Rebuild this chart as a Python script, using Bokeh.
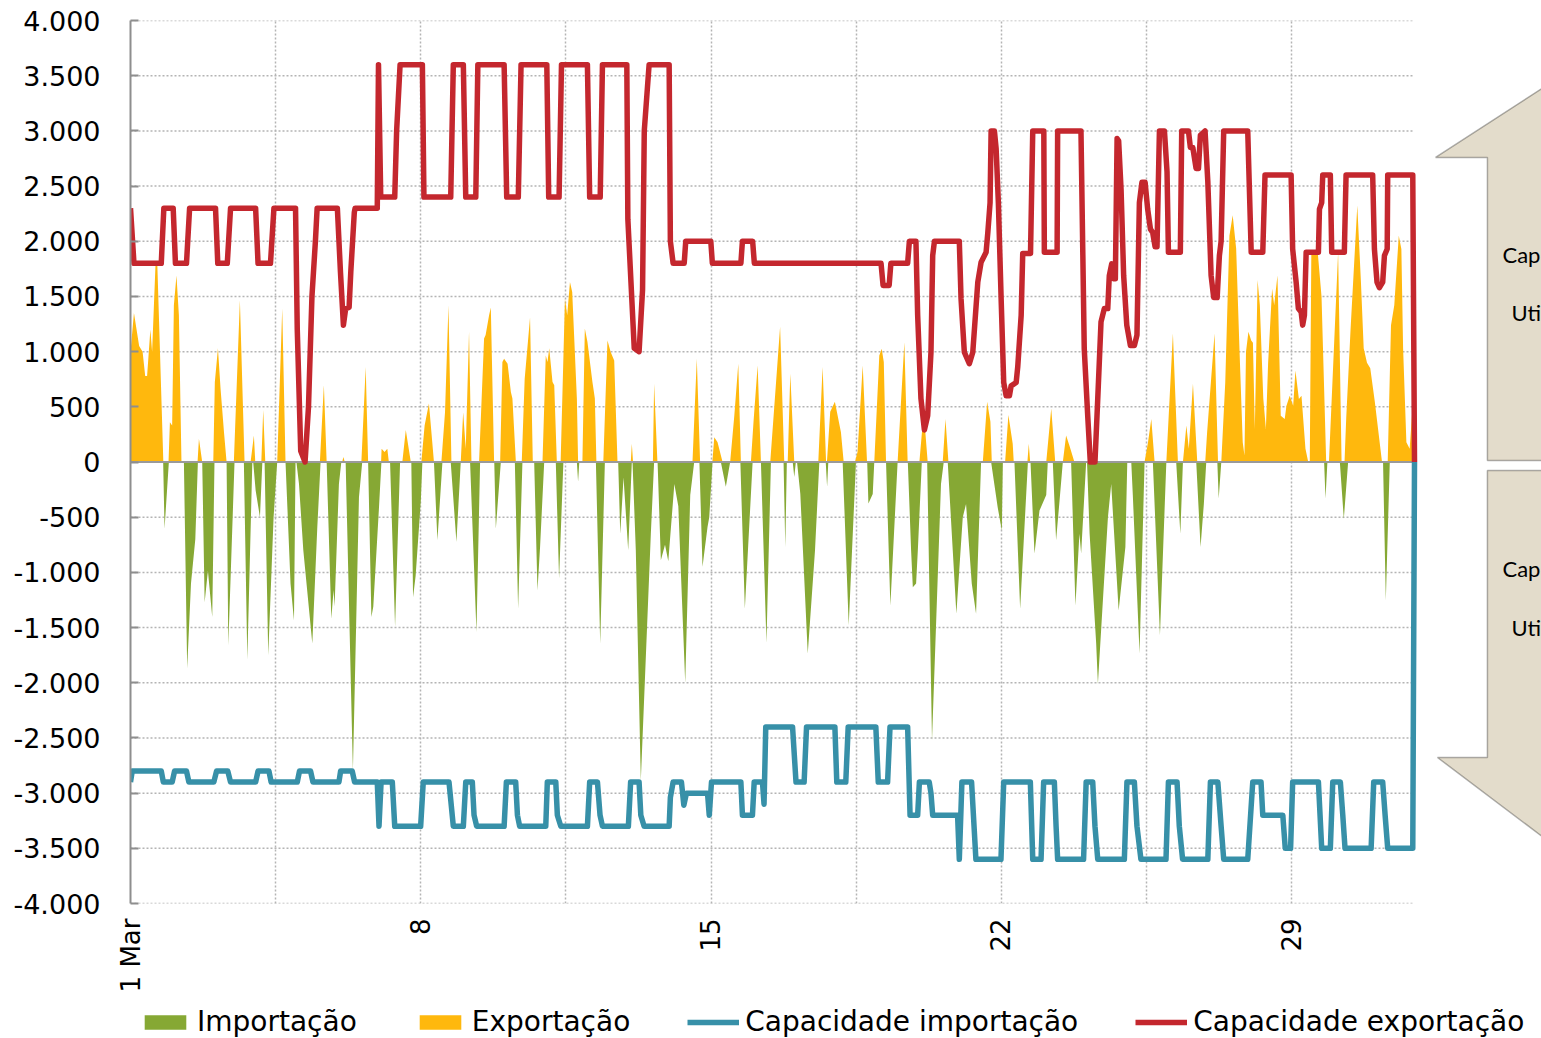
import math
from bokeh.plotting import figure
from bokeh.layouts import column
from bokeh.models import (Range1d, FixedTicker, Legend, LegendItem, PolyAnnotation, Label)
from bokeh.embed import file_html
from bokeh.resources import INLINE

# ---------------- data (x = hours since 1 March 00:00, values in MW) ----------------
tick_days = [1, 8, 15, 22, 29]
tick_labels = ["1 Mar", "8", "15", "22", "29"]
y_ticks = list(range(-4000, 4001, 500))

exportacao = [
    (0, 1000), (2, 1350), (5, 1050), (7, 1000), (8.5, 780), (9.6, 780), (11.5, 1200), (12.5, 1000),
    (14.5, 1800), (15.5, 1800), (19, 0),
    (22, 0), (22.8, 360), (24.1, 330), (25.1, 1420), (26.6, 1690), (28, 1330), (29.5, 0),
    (38.8, 0), (39.6, 210), (41.5, 0),
    (47.9, 0), (48.8, 725), (50.6, 1030), (52.1, 665), (54.1, 270), (55.6, 0),
    (59.8, 0), (63.3, 1465), (66, 0),
    (69.5, 0), (71.4, 240), (72.2, 0),
    (75.7, 0), (76.8, 470), (78, 0),
    (84.9, 0), (87.8, 1390), (89.7, 0),
    (109.6, 0), (111.9, 695), (113.5, 0),
    (122.5, 0), (123.2, 45), (124, 0),
    (133.6, 0), (136.1, 860), (137.5, 0),
    (145, 0), (145.3, 120), (147, 90), (148.6, 120), (149.5, 0),
    (157.3, 0), (159.3, 290), (162.2, 0),
    (168.3, 0), (170.2, 330), (172.7, 530), (175.6, 0),
    (179.9, 0), (182, 450), (184, 1420), (185.7, 0),
    (191.1, 0), (192.5, 450), (194, 120), (195.9, 1180), (197.3, 0),
    (201.7, 0), (204.6, 1120), (205.5, 1150), (207.5, 1330), (208.5, 1400), (210.4, 0),
    (213.9, 0), (215.2, 905), (216.2, 935), (218.2, 890), (220.1, 635), (221, 575), (223, 0),
    (226.4, 0), (228.1, 755), (231.2, 1310), (232.8, 0),
    (238.4, 0), (240.3, 965), (241.3, 905), (242.3, 1030), (244.2, 725), (245.2, 695), (246.7, 0),
    (248.9, 0), (251.4, 1480), (252.7, 1330), (254.3, 1630), (255.6, 1540), (258.3, 575), (259, 0),
    (261.5, 0), (262.9, 1210), (264.4, 1090), (267.3, 725), (268.7, 575), (269.6, 0),
    (273.6, 0), (276, 1100), (277.9, 995), (279.9, 920), (281.8, 0),
    (289.5, 0), (290.1, 165), (290.8, 0),
    (302.3, 0), (303, 710), (304.9, 0),
    (325.2, 0), (327.7, 935), (329.6, 0),
    (336.7, 0), (337.8, 225), (339.7, 180), (342.6, 0),
    (347, 0), (349.4, 420), (351.7, 890), (353.2, 0),
    (359, 0), (360.5, 360), (362.9, 875), (364.8, 0),
    (370.2, 0), (375.9, 1225), (378.3, 0),
    (380.3, 0), (381.8, 800), (384.1, 0),
    (398, 0), (400.5, 860), (402.5, 0),
    (403, 0), (404.9, 455), (407.6, 545), (411.1, 270), (412.7, 0),
    (419.2, 0), (420.7, 90), (423.7, 875), (426.2, 0),
    (430.4, 0), (433.3, 965), (434.7, 1025), (435.9, 905), (437.2, 0),
    (443.9, 0), (447.8, 1085), (449.7, 0),
    (456.5, 0), (459, 455), (461.3, 0),
    (470, 0), (471.6, 390), (473.3, 0),
    (493.2, 0), (495.7, 545), (497.6, 365), (498.4, 0),
    (506.1, 0), (508, 425), (510.5, 165), (511.1, 0),
    (519, 0), (519.8, 165), (520.6, 0),
    (529.9, 0), (532.8, 485), (535.1, 0),
    (539.5, 0), (541.4, 240), (543.3, 150), (546.2, 0),
    (586.8, 0), (588.8, 180), (590.7, 390), (592.6, 0),
    (599.4, 0), (603.2, 1165), (606.1, 0),
    (609, 0), (611, 330), (612.4, 120), (614.8, 710), (617.3, 0),
    (621.9, 0), (623, 270), (627.3, 1165), (629.3, 0),
    (631.2, 0), (633.5, 725), (635.9, 2050), (637.8, 2235), (639.8, 1935), (641.7, 1030),
    (643.6, 180), (644.6, 60), (645.5, 1000), (646.9, 1180), (648.5, 1100), (649.5, 1080),
    (650.6, 300), (652.2, 1650), (653.5, 1420), (655.5, 575), (657, 300), (658.3, 900),
    (660.6, 1570), (661.8, 1420), (663.7, 1690), (665.6, 420), (667.9, 390), (668.9, 510),
    (670.8, 600), (672.8, 510), (674.1, 830), (676.1, 570), (677.6, 600), (679.9, 120), (681.5, 0),
    (682.4, 0), (683.3, 1900), (687, 1900), (689.2, 1500), (691.9, 0),
    (693.5, 0), (698.8, 1900), (700.8, 0),
    (702.5, 0), (703.5, 400), (706, 1200), (709.9, 2325), (712, 1630), (713.6, 1030),
    (715.5, 900), (717.4, 850), (720, 550), (724.2, 0),
    (727.5, 0), (729.4, 1240), (731.3, 1420), (733.9, 2050), (735.4, 1930), (736.4, 1030),
    (738.3, 180), (740.2, 120), (742.2, 575), (743, 0),
]

importacao = [
    (18.9, 0), (19.7, -605), (22.2, 0),
    (30.9, 0), (32.8, -1870), (35, -1100), (37.5, -700), (39, 0),
    (41.5, 0), (42.9, -1270), (44.8, -985), (47.3, -1405), (48.6, 0),
    (55.6, 0), (56.6, -1660), (60.2, 0),
    (65.6, 0), (67.6, -1795), (70.5, 0),
    (71, 0), (72.4, -255), (74.9, -500), (76.3, 0),
    (77.6, 0), (79.7, -1750), (82.8, -500), (84.9, 0),
    (89.7, 0), (92.6, -1100), (94.6, -1435), (95.5, 0),
    (96, 0), (97.5, -200), (100, -800), (105.2, -1645), (108.1, -590), (110, 0),
    (113.5, 0), (116.2, -1420), (117.5, -1160), (118.1, -1310), (120.6, -200), (122, 0),
    (124.5, 0), (128.7, -2795), (132.2, -320), (134.1, 0),
    (137.5, 0), (139.4, -1405), (140.5, -1310), (143.8, -410), (145.2, 0),
    (150.2, 0), (153.1, -1495), (156, 0),
    (162.5, 0), (163.5, -1225), (165, -1030), (168, -350), (168.9, 0),
    (175.6, 0), (177.6, -710), (180.5, 0),
    (185.3, 0), (188.6, -725), (191.1, 0),
    (196.5, 0), (200.2, -1540), (202.3, 0),
    (210.5, 0), (211.4, -605), (214.3, 0),
    (222.4, 0), (224.3, -1330), (226.8, 0),
    (233.6, 0), (235.5, -1165), (237, -770), (239.4, 0),
    (246.1, 0), (248, -1055), (250.5, 0),
    (258.3, 0), (259, -180), (259.7, 0),
    (269.3, 0), (271.8, -1645), (274.5, 0),
    (282.2, 0), (283.4, -650), (285.3, -140), (288, -800), (290.1, 0),
    (290.5, 0), (292.4, -800), (295.3, -2885), (301.1, -650), (303, 0),
    (305, 0), (306.9, -890), (309.3, -750), (311.2, -900), (314.7, -200), (317, -400),
    (321, -2000), (323.9, -300), (326.2, 0),
    (329.2, 0), (331, -950), (333.9, -590), (334.9, -500), (336.8, 0),
    (341.6, 0), (344.5, -225), (347, 0),
    (352.9, 0), (355.5, -1330), (360, 0),
    (364.8, 0), (368, -1640), (370.6, 0),
    (377.9, 0), (378.9, -770), (379.8, 0),
    (383.2, 0), (384.1, -135), (385, 0),
    (385.7, 0), (387.6, -290), (391.9, -1735), (396.1, -800), (398.6, 0),
    (402.3, 0), (403.1, -225), (403.8, 0),
    (412.1, 0), (415.6, -1480), (419.8, 0),
    (426.3, 0), (427, -375), (429.5, -290), (430.4, 0),
    (437.2, 0), (439.7, -1300), (443.9, 0),
    (449.8, 0), (451.7, -800), (452.7, -1135), (454.6, -1100), (455.6, -800), (457.9, 0),
    (461, 0), (463.8, -2520), (469, -200), (470.6, 0),
    (472.9, 0), (475.8, -800), (477.9, -1375), (481.6, -500), (483.5, -380), (486.8, -1100),
    (489.3, -1375), (492.2, 0),
    (498, 0), (501.8, -410), (504.2, -620), (504.8, 0),
    (511.5, 0), (514.8, -1330), (519.3, 0),
    (520.8, 0), (523.1, -830), (526, -440), (529.9, -300), (530.8, 0),
    (533.7, 0), (535.6, -710), (537.6, -350), (539.5, 0),
    (544.3, 0), (546.8, -1300), (549.1, -650), (550.1, -830), (553, 0),
    (553.5, 0), (555, -650), (558.8, -1645), (559.8, -2010), (562.7, -1250), (565.6, -500),
    (567.5, -200), (571.8, -1345), (575.7, -770), (576.8, 0),
    (579.1, 0), (580, -300), (583.9, -1735), (586.8, 0),
    (591.6, 0), (595.7, -1570), (599.4, 0),
    (605.1, 0), (607.5, -650), (609, 0),
    (616.7, 0), (619.2, -770), (621.1, -380), (622.5, 0),
    (628.9, 0), (629.7, -330), (631.2, 0),
    (690.7, 0), (691.5, -330), (692.6, 0),
    (699.8, 0), (702.1, -515), (704.6, 0),
    (724.8, 0), (726.4, -1255), (728.7, 0),
]

capacidade_exportacao = [
    (0, 2300), (2, 1800), (17.8, 1800), (19.3, 2300), (24.7, 2300), (26, 1800), (32.4, 1800),
    (34.2, 2300), (49.2, 2300), (50.5, 1800), (56, 1800), (57.9, 2300), (72.4, 2300), (73.8, 1800),
    (81, 1800), (83, 2300), (95.5, 2300), (96.5, 1200), (98.5, 100), (101, 0), (103, 500),
    (105, 1500), (107, 2000), (108, 2300), (119.7, 2300), (121.5, 1720), (123.2, 1240),
    (124.5, 1390), (126.5, 1400), (127.5, 1730), (129.5, 2260), (130, 2300), (142.8, 2300),
    (143.5, 3600), (144.8, 2400), (152.9, 2400), (154, 3000), (156, 3600), (168.9, 3600),
    (169.8, 2400), (185.3, 2400), (186.8, 3600), (192.6, 3600), (194, 2400), (199.8, 2400),
    (201, 3600), (216.2, 3600), (217.7, 2400), (224.4, 2400), (226, 3600), (240.9, 3600),
    (242, 2400), (248, 2400), (249.4, 3600), (264.4, 3600), (265.7, 2400), (271.8, 2400),
    (273.1, 3600), (287.2, 3600), (287.8, 2200), (291.5, 1030), (294.3, 1000), (296.3, 1560),
    (297.3, 3000), (300.1, 3600), (311.7, 3600), (312.4, 2000), (314, 1800), (320.4, 1800),
    (321.3, 2000), (335.8, 2000), (336.7, 1800), (353.2, 1800), (354.1, 2000), (360, 2000),
    (361, 1800), (434.3, 1800), (435.5, 1600), (439, 1600), (440, 1800), (449.7, 1800),
    (450.7, 2000), (454.5, 2000), (455.5, 1330), (457.4, 575), (459.4, 290), (461.3, 420),
    (463.2, 995), (464.2, 1870), (465.2, 2000), (479.6, 2000), (480.6, 1480), (482.5, 995),
    (485.4, 890), (487.4, 995), (490.3, 1630), (492.2, 1810), (495.1, 1900), (496.1, 2080),
    (497.4, 2350), (498, 3000), (499.9, 3000), (500.9, 2840), (502.2, 2350), (503.8, 1480),
    (505.3, 720), (506.7, 600), (508.6, 600), (509.6, 690), (512.5, 720), (513.4, 860),
    (515.4, 1330), (516.3, 1890), (520.8, 1890), (522.1, 3000), (528.5, 3000), (528.8, 1900),
    (536.2, 1900), (536.5, 3000), (550, 3000), (551.9, 1025), (553.9, 420), (555.4, 0),
    (558.1, 0), (559.7, 570), (561.6, 1270), (563.5, 1390), (565.5, 1390), (566.4, 1690),
    (567.8, 1795), (568.7, 1660), (569.9, 1660), (570.9, 2930), (571.8, 2910), (573.2, 2470),
    (574.7, 1690), (576.5, 1240), (578.6, 1055), (580.9, 1055), (582.4, 1150), (583.8, 2350),
    (585.3, 2535), (587.1, 2535), (588.6, 2290), (590.2, 2110), (591.5, 2080), (592.9, 1950),
    (594, 1950), (595.4, 3000), (598.3, 3000), (599.8, 2630), (600.6, 1900), (607.5, 1900),
    (608.3, 3000), (612.2, 3000), (613.3, 2850), (614.7, 2850), (616.6, 2660), (618, 2660),
    (619.1, 2960), (621.8, 3000), (623.4, 2540), (625.3, 1690), (626.8, 1490), (628.8, 1490),
    (630.1, 1870), (631.1, 2000), (632.6, 3000), (646.5, 3000), (648.5, 1900), (655.2, 1900),
    (656.5, 2600), (671.6, 2600), (672.5, 1930), (674.5, 1630), (675.8, 1390), (677.4, 1360),
    (678.3, 1240), (679.3, 1330), (680.3, 1900), (687.4, 1900), (688, 2290), (689.3, 2350),
    (689.9, 2600), (694.3, 2600), (695.1, 1900), (702.4, 1900), (703.4, 2600), (718.8, 2600),
    (719.8, 1930), (721.3, 1630), (722.7, 1580), (724.6, 1630), (725.6, 1870), (727.2, 1930),
    (727.5, 2600), (742, 2600), (743, 0),
]

capacidade_importacao = [
    (0, -2900), (1, -2800), (17.8, -2800), (19, -2900), (24.1, -2900), (25.5, -2800),
    (32.4, -2800), (33.8, -2900), (48.2, -2900), (49.8, -2800), (56.3, -2800), (57.9, -2900),
    (72.4, -2900), (73.8, -2800), (80.1, -2800), (81.4, -2900), (96.5, -2900), (97.8, -2800),
    (104.2, -2800), (105.6, -2900), (120.6, -2900), (121.6, -2800), (128.3, -2800),
    (129.7, -2900), (142.8, -2900), (143.8, -3300), (145, -2900), (151.5, -2900),
    (152.9, -3300), (167.9, -3300), (169.4, -2900), (184.3, -2900), (186.8, -3300),
    (192.6, -3300), (194, -2900), (197.8, -2900), (198.8, -3200), (200.3, -3300),
    (216.2, -3300), (217.5, -2900), (222.9, -2900), (223.9, -3200), (225.2, -3300),
    (240.3, -3300), (241.2, -2900), (246.1, -2900), (247, -3200), (249, -3300), (264.4, -3300),
    (265.7, -2900), (270.2, -2900), (271.7, -3200), (273.1, -3300), (288.1, -3300),
    (289.4, -2900), (294.3, -2900), (295.3, -3200), (297.2, -3300), (311.7, -3300),
    (312.4, -3040), (314, -2900), (318.8, -2900), (320.2, -3110), (321.7, -3000),
    (333.9, -3000), (334.9, -3200), (336.2, -2900), (353.2, -2900), (354.1, -3200),
    (359.9, -3200), (360.9, -2900), (365.7, -2900), (366.6, -3100), (367.6, -2400),
    (383.1, -2400), (385.1, -2900), (389.8, -2900), (391.2, -2400), (407.6, -2400),
    (408.7, -2900), (413.9, -2900), (415.3, -2400), (431.3, -2400), (432.7, -2900),
    (438.1, -2900), (439.5, -2400), (449.7, -2400), (451.1, -3200), (455.5, -3200),
    (456.5, -2900), (462.2, -2900), (463.2, -3000), (464.2, -3200), (478.6, -3200),
    (479.6, -3600), (481.1, -2900), (486.7, -2900), (489.2, -3600), (503.7, -3600),
    (505.3, -2900), (520.7, -2900), (522.1, -3600), (526.9, -3600), (528.4, -2900),
    (534.6, -2900), (535.6, -3300), (536.5, -3600), (551.5, -3600), (553, -2900),
    (556.8, -2900), (558.1, -3300), (559.7, -3600), (575.1, -3600), (576.6, -2900),
    (580.9, -2900), (582.4, -3300), (584.7, -3600), (599.2, -3600), (600.6, -2900),
    (605.6, -2900), (606.9, -3300), (608.8, -3600), (623.4, -3600), (624.9, -2900),
    (629.2, -2900), (631.1, -3300), (632.6, -3600), (646.5, -3600), (649.4, -2900),
    (654.2, -2900), (655.2, -3200), (666.8, -3200), (668.2, -3500), (671.3, -3500),
    (672.5, -2900), (687.4, -2900), (689.3, -3500), (694.3, -3500), (695.7, -2900),
    (700.1, -2900), (701.5, -3200), (702.8, -3500), (717.9, -3500), (719.4, -2900),
    (724.6, -2900), (726, -3200), (727.5, -3500), (742, -3500), (743, 0),
]

# ---------------- layout / styling (not data) ----------------
GREEN = "#86A834"
ORANGE = "#FFB80D"
TEAL = "#3790A8"
RED = "#C4272E"
AXIS_GREY = "#8E8E8E"
GRID_GREY = "#B4B4B4"
BEIGE = "#E3DCCB"
FONT = "DejaVu Sans"

W = 1541
MAIN_H, LEG_H = 1000, 38
LEFT, TOP, BOTTOM = 130, 20, 97           # borders around the plotting frame (px)
DATA_RIGHT_PX = 1414                      # where the last hour sits on screen
LEGEND_X = 9                              # legend offset from the frame's left edge
# decorative side arrows, in (hours, MW) of the frame
arrow_up = ([850.6, 755.2, 785.2, 785.2, 850.6], [3728, 2759, 2759, 14, 14])
arrow_down = ([850.6, 785.2, 785.2, 756.3, 850.6], [-77, -77, -2677, -2677, -3792])
arrow_texts = [("Cap", 793.9, 1880), ("Uti", 799.1, 1354), ("Cap", 793.9, -965), ("Uti", 799.1, -1499)]

ex_h, ex_v = zip(*exportacao)
im_h, im_v = zip(*importacao)
ce_h, ce_v = zip(*capacidade_exportacao)
ci_h, ci_v = zip(*capacidade_importacao)
x_end = max(ce_h)
x_view_end = x_end * (W - LEFT) / (DATA_RIGHT_PX - LEFT)

p = figure(width=W, height=MAIN_H, x_range=Range1d(0, x_view_end), y_range=Range1d(-4000, 4000),
           output_backend="svg", toolbar_location=None,
           min_border_left=LEFT, min_border_right=0, min_border_top=TOP, min_border_bottom=BOTTOM)
p.outline_line_color = None
p.background_fill_color = "white"
p.border_fill_color = "white"

# horizontal dotted grid limited to the data span
p.ygrid.visible = False
p.segment(x0=[0] * len(y_ticks), x1=[x_end] * len(y_ticks), y0=y_ticks, y1=y_ticks,
          line_color=GRID_GREY, line_width=1.5, line_dash="2 2")
p.xgrid.ticker = FixedTicker(ticks=[84 * i for i in range(9)])
p.xgrid.grid_line_color = GRID_GREY
p.xgrid.grid_line_dash = "2 2"
p.xgrid.grid_line_width = 1.5

r_imp = p.varea(x=list(im_h), y1=0, y2=list(im_v), fill_color=GREEN)
r_exp = p.varea(x=list(ex_h), y1=0, y2=list(ex_v), fill_color=ORANGE)

# horizontal (category) axis line crossing at zero
p.segment(x0=[0], x1=[x_end], y0=[0], y1=[0], line_color="#9A9A9A", line_width=2)

r_ci = p.line(x=list(ci_h), y=list(ci_v), line_color=TEAL, line_width=5.5, line_join="round")
r_ce = p.line(x=list(ce_h), y=list(ce_v), line_color=RED, line_width=5.5, line_join="round")

# axes
tick_hours = [(d - 1) * 24 for d in tick_days]
xa = p.xaxis[0]
xa.ticker = FixedTicker(ticks=tick_hours)
xa.major_label_overrides = {h: lab for h, lab in zip(tick_hours, tick_labels)}
xa.major_label_orientation = math.pi / 2
xa.axis_line_color = None
xa.major_tick_line_color = None
xa.minor_tick_line_color = None
xa.major_label_standoff = 9
xa.major_label_text_font = FONT
xa.major_label_text_font_size = "26px"
xa.major_label_text_color = "black"

ya = p.yaxis[0]
ya.ticker = FixedTicker(ticks=y_ticks)
ya.major_label_overrides = {v: f"{v:,}".replace(",", ".") for v in y_ticks}
ya.axis_line_color = AXIS_GREY
ya.axis_line_width = 2
ya.major_tick_in = 8
ya.major_tick_out = 0
ya.major_tick_line_color = AXIS_GREY
ya.major_tick_line_width = 2
ya.minor_tick_line_color = None
ya.major_label_standoff = 30
ya.major_label_text_font = FONT
ya.major_label_text_font_size = "27px"
ya.major_label_text_color = "black"

# side arrows (partially outside the window, as in the original)
p.add_layout(PolyAnnotation(xs=arrow_up[0], ys=arrow_up[1], fill_color=BEIGE, fill_alpha=1,
                            line_color="black", line_width=1.5))
p.add_layout(PolyAnnotation(xs=arrow_down[0], ys=arrow_down[1], fill_color=BEIGE, fill_alpha=1,
                            line_color="black", line_width=1.5))
for txt, x, y in arrow_texts:
    p.add_layout(Label(x=x, y=y, text=txt, text_font="Lato", text_font_size="22px",
                       text_baseline="middle", text_color="black"))

# ---------------- legend strip under the chart ----------------
# same series, drawn out of view: only their legend swatches show
lg = figure(width=W, height=LEG_H, x_range=Range1d(-2, -1), y_range=Range1d(-4000, 4000),
            output_backend="svg", toolbar_location=None, min_border=0,
            x_axis_location=None, y_axis_location=None)
lg.outline_line_color = None
lg.grid.visible = False
k_imp = lg.varea(x=list(im_h), y1=0, y2=list(im_v), fill_color=GREEN)
k_exp = lg.varea(x=list(ex_h), y1=0, y2=list(ex_v), fill_color=ORANGE)
k_ci = lg.line(x=list(ci_h), y=list(ci_v), line_color=TEAL, line_width=5.5)
k_ce = lg.line(x=list(ce_h), y=list(ce_v), line_color=RED, line_width=5.5)
legend = Legend(items=[LegendItem(label="Importação", renderers=[k_imp]),
                       LegendItem(label="Exportação", renderers=[k_exp]),
                       LegendItem(label="Capacidade importação", renderers=[k_ci]),
                       LegendItem(label="Capacidade exportação", renderers=[k_ce])],
                orientation="horizontal", location=(LEGEND_X, 0),
                label_text_font=FONT, label_text_font_size="28px", label_text_color="black",
                glyph_width=52, glyph_height=18, spacing=57, label_standoff=6,
                padding=0, margin=0, border_line_color=None, background_fill_alpha=0)
lg.add_layout(legend)

layout = column(p, lg, spacing=0)
open("out.html", "w").write(file_html(layout, INLINE))
